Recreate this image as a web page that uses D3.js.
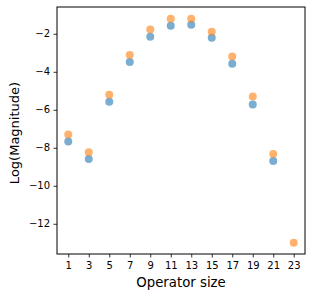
<!DOCTYPE html>
<html><head><meta charset="utf-8">
<script src="https://cdn.jsdelivr.net/npm/d3@7"></script>
<style>body{margin:0;background:#fff}svg{display:block}</style>
</head><body>
<script>
const sizes = [1,3,5,7,9,11,13,15,17,19,21,23];
const seriesA = [-7.67,-8.59,-5.58,-3.49,-2.16,-1.58,-1.53,-2.21,-3.58,-5.72,-8.70,null];
const seriesB = [-7.30,-8.23,-5.21,-3.11,-1.77,-1.21,-1.21,-1.89,-3.19,-5.30,-8.33,-13.0];
const xTicks = [1,3,5,7,9,11,13,15,17,19,21,23];
const yTicks = [-2,-4,-6,-8,-10,-12];

const W=312,H=297;
const m={l:57,r:305,t:7,b:254};
const svg=d3.select("body").append("svg").attr("width",W).attr("height",H);
const x=d3.scaleLinear().domain([-0.1,24.1]).range([m.l,m.r]);
const y=d3.scaleLinear().domain([-13.59,-0.59]).range([m.b,m.t]);

const font="DejaVu Sans";
const xa=svg.append("g").attr("transform",`translate(0,${m.b})`)
  .call(d3.axisBottom(x).tickValues(xTicks).tickSize(3.5).tickPadding(4).tickFormat(d3.format("d")));
const ya=svg.append("g").attr("transform",`translate(${m.l},0)`)
  .call(d3.axisLeft(y).tickValues(yTicks).tickSize(3.5).tickPadding(3.5).tickFormat(d=>d<0?"\u2212"+Math.abs(d):d));
[xa,ya].forEach(a=>{a.select(".domain").remove();a.selectAll("text").attr("font-family",font).attr("font-size",10).attr("fill","#000");a.selectAll("line").attr("stroke","#000").attr("stroke-width",0.8);});

svg.append("rect").attr("x",m.l).attr("y",m.t).attr("width",m.r-m.l).attr("height",m.b-m.t)
  .attr("fill","none").attr("stroke","#000").attr("stroke-width",1);

function dots(vals,color){
  svg.append("g").selectAll("circle").data(sizes.map((s,i)=>({s,v:vals[i]})).filter(d=>d.v!=null))
    .join("circle").attr("cx",d=>x(d.s)).attr("cy",d=>y(d.v)).attr("r",4)
    .attr("fill",color).attr("fill-opacity",0.6);
}
dots(seriesA,"#1f77b4");
dots(seriesB,"#ff7f0e");

svg.append("text").attr("x",(m.l+m.r)/2).attr("y",287).attr("text-anchor","middle")
  .attr("font-family",font).attr("font-size",13.3).text("Operator size");
svg.append("text").attr("transform",`translate(18.5,133) rotate(-90)`).attr("text-anchor","middle")
  .attr("font-family",font).attr("font-size",13).text("Log(Magnitude)");
</script>
</body></html>
